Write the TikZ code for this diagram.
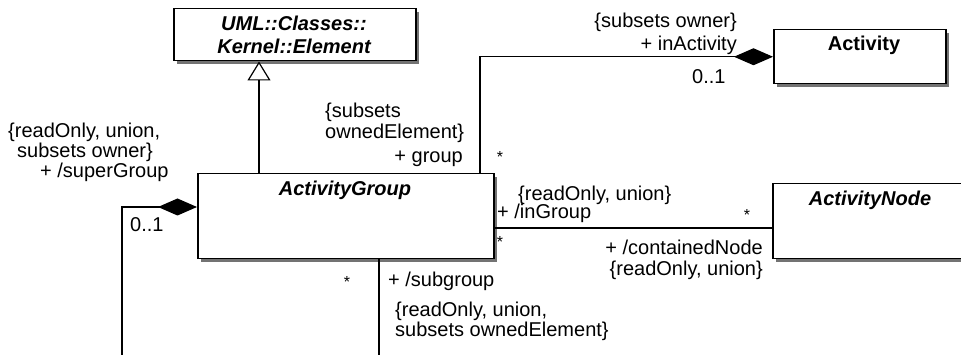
\documentclass[tikz,border=0pt]{standalone}
\usepackage{fontspec}
\setmainfont{Liberation Sans}
\usetikzlibrary{arrows.meta,shadows,calc}
\begin{document}
\begin{tikzpicture}[x=1pt,y=-1pt,
  every node/.style={font=\fontsize{20}{22}\selectfont, inner sep=0pt},
  cls/.style={draw=black, line width=1.5pt, fill=white, anchor=north west,
     drop shadow={shadow xshift=3pt, shadow yshift=-3pt, fill=black!55, opacity=1}},
  ttl/.style={font=\fontsize{20}{23}\selectfont\bfseries\itshape, align=center},
  ttlup/.style={font=\fontsize{20}{23}\selectfont\bfseries},
  conn/.style={line width=1.2pt},
  comp/.style={conn, -{Diamond[length=39pt,width=17pt,fill=black]}},
  gen/.style={conn, -{Triangle[open,length=19pt,width=23pt,line width=1.2pt]}},
  star/.style={font=\fontsize{16}{18}\selectfont}
]
\useasboundingbox (0,0) rectangle (961,355);
\clip (0,0) rectangle (961,355);
\fill[white] (0,0) rectangle (961,355);

% classes
\node[cls, minimum width=242pt, minimum height=52pt] (el) at (173,8) {};
\node[ttl] (elt) at (294,35) {UML::Classes::\\Kernel::Element};
\node[cls, minimum width=296pt, minimum height=85pt] (ag) at (197,173) {};
\node[ttl] (agt) at (345,190) {ActivityGroup};
\node[cls, minimum width=172pt, minimum height=54pt] (act) at (773,29) {};
\node[ttlup] (actt) at (864,45) {Activity};
\node[cls, minimum width=210pt, minimum height=75pt] (an) at (772,183) {};
\node[ttl] (ant) at (870,200) {ActivityNode};

% helper coordinates
\coordinate (gx) at (259,0);
\coordinate (ax) at (480,0);
\coordinate (sy) at (0,207);
\coordinate (bx) at (379,0);
\coordinate (ny) at (0,228);
\coordinate (s1) at (122,207);
\coordinate (s2) at (122,360);
\coordinate (b2) at (379,360);

% generalization
\draw[gen] (ag.north -| gx) -- (el.south -| gx);
% activity composition
\draw[comp] (ag.north -| ax) |- (act.west);
% self composition (superGroup/subgroup)
\draw[comp] (s2) -- (s1) -- (ag.west |- sy);
\draw[conn] (ag.south -| bx) -- (b2);
% activity node association
\draw[conn] (ag.east |- ny) -- (an.west |- ny);

% labels: Activity association
\node[anchor=east] (l1) at (737,22) {\{subsets owner\}};
\node[anchor=east] (l2) at (737,45) {+ inActivity};
\node[anchor=west] (l3) at (692,77) {0..1};
\node[star] (l4) at (500,157) {*};
\node[anchor=west] (l5) at (325,112) {\{subsets};
\node[anchor=west] (l6) at (325,133) {ownedElement\}};
\node[anchor=east] (l7) at (463,159) {+ group};

% labels: superGroup
\node[anchor=west] (l8) at (8,132) {\{readOnly, union,};
\node[anchor=west] (l9) at (17,152) {subsets owner\}};
\node[anchor=west] (l10) at (40,172) {+ /superGroup};
\node[anchor=west] (l11) at (130,225) {0..1};

% labels: subgroup
\node[star] (l12) at (347,282) {*};
\node[anchor=west] (l13) at (388,281) {+ /subgroup};
\node[anchor=west] (l14) at (395,311) {\{readOnly, union,};
\node[anchor=west] (l15) at (395,331) {subsets ownedElement\}};

% labels: ActivityNode association
\node[anchor=west] (l16) at (518,195) {\{readOnly, union\}};
\node[anchor=west] (l17) at (497,213) {+ /inGroup};
\node[star] (l18) at (747,215) {*};
\node[star] (l19) at (500,242) {*};
\node[anchor=east] (l20) at (763,247) {+ /containedNode};
\node[anchor=east] (l21) at (763,270) {\{readOnly, union\}};
\end{tikzpicture}
\end{document}
